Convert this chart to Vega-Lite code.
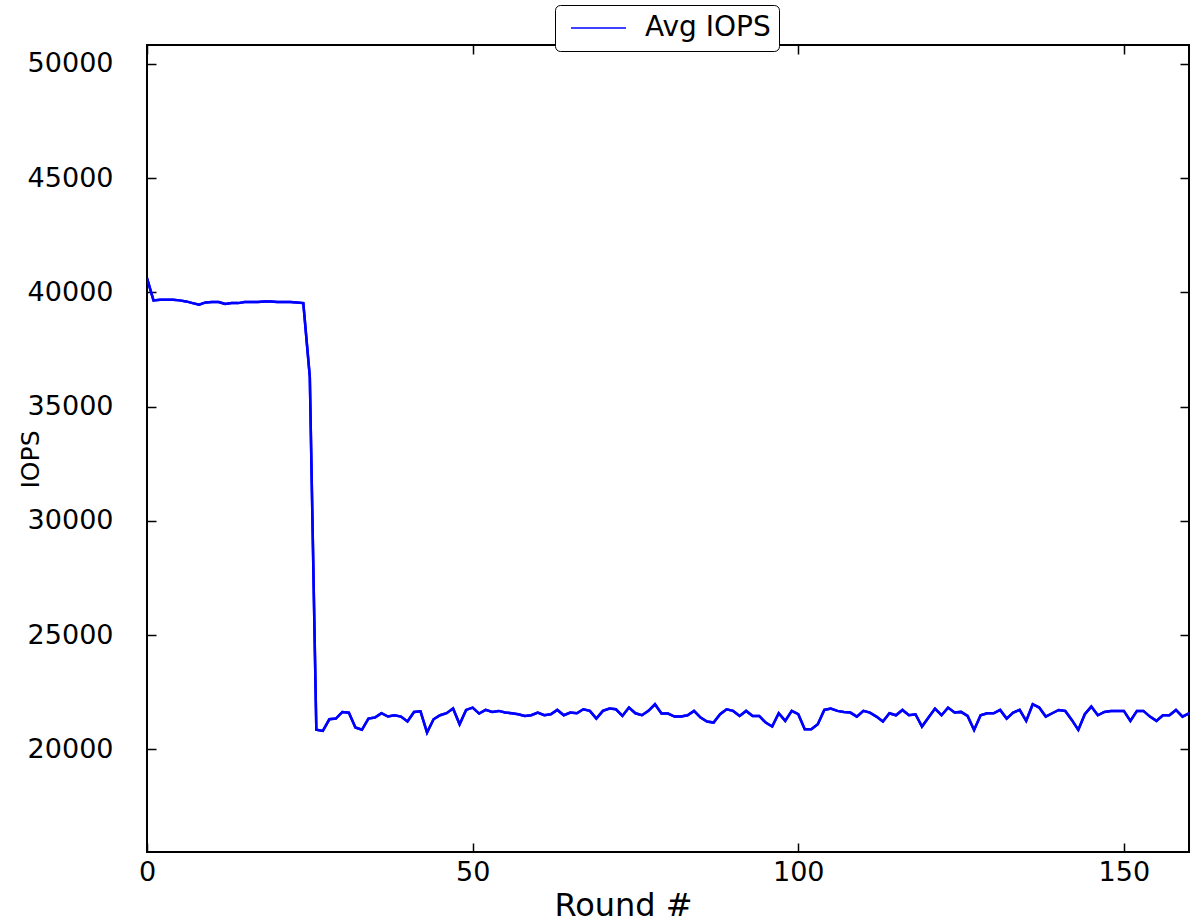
{
  "$schema": "https://vega.github.io/schema/vega-lite/v6.json",
  "width": 1042,
  "height": 807,
  "autosize": {"type": "none"},
  "padding": {"left": 147, "top": 45, "right": 8, "bottom": 70},
  "background": "white",
  "config": {
    "font": "DejaVu Sans",
    "view": {"stroke": "black", "strokeWidth": 2},
    "axis": {
      "domain": false,
      "grid": false,
      "tickColor": "black",
      "tickWidth": 1.5,
      "tickSize": -9,
      "labelColor": "black",
      "labelFont": "DejaVu Sans",
      "labelFontSize": 27,
      "labelFlush": false,
      "labelOverlap": false,
      "titleFont": "DejaVu Sans",
      "titleFontSize": 27,
      "titleFontWeight": "normal",
      "titleColor": "black"
    }
  },
  "data": {
    "values": [
      {"round": 0, "iops": 40620, "series": "Avg IOPS"},
      {"round": 1, "iops": 39650, "series": "Avg IOPS"},
      {"round": 2, "iops": 39680, "series": "Avg IOPS"},
      {"round": 3, "iops": 39680, "series": "Avg IOPS"},
      {"round": 4, "iops": 39680, "series": "Avg IOPS"},
      {"round": 5, "iops": 39650, "series": "Avg IOPS"},
      {"round": 6, "iops": 39605, "series": "Avg IOPS"},
      {"round": 7, "iops": 39530, "series": "Avg IOPS"},
      {"round": 8, "iops": 39460, "series": "Avg IOPS"},
      {"round": 9, "iops": 39560, "series": "Avg IOPS"},
      {"round": 10, "iops": 39580, "series": "Avg IOPS"},
      {"round": 11, "iops": 39580, "series": "Avg IOPS"},
      {"round": 12, "iops": 39490, "series": "Avg IOPS"},
      {"round": 13, "iops": 39530, "series": "Avg IOPS"},
      {"round": 14, "iops": 39530, "series": "Avg IOPS"},
      {"round": 15, "iops": 39580, "series": "Avg IOPS"},
      {"round": 16, "iops": 39580, "series": "Avg IOPS"},
      {"round": 17, "iops": 39580, "series": "Avg IOPS"},
      {"round": 18, "iops": 39605, "series": "Avg IOPS"},
      {"round": 19, "iops": 39605, "series": "Avg IOPS"},
      {"round": 20, "iops": 39580, "series": "Avg IOPS"},
      {"round": 21, "iops": 39580, "series": "Avg IOPS"},
      {"round": 22, "iops": 39580, "series": "Avg IOPS"},
      {"round": 23, "iops": 39560, "series": "Avg IOPS"},
      {"round": 24, "iops": 39530, "series": "Avg IOPS"},
      {"round": 25, "iops": 36300, "series": "Avg IOPS"},
      {"round": 26, "iops": 20850, "series": "Avg IOPS"},
      {"round": 27, "iops": 20800, "series": "Avg IOPS"},
      {"round": 28, "iops": 21310, "series": "Avg IOPS"},
      {"round": 29, "iops": 21340, "series": "Avg IOPS"},
      {"round": 30, "iops": 21630, "series": "Avg IOPS"},
      {"round": 31, "iops": 21600, "series": "Avg IOPS"},
      {"round": 32, "iops": 20950, "series": "Avg IOPS"},
      {"round": 33, "iops": 20850, "series": "Avg IOPS"},
      {"round": 34, "iops": 21340, "series": "Avg IOPS"},
      {"round": 35, "iops": 21385, "series": "Avg IOPS"},
      {"round": 36, "iops": 21575, "series": "Avg IOPS"},
      {"round": 37, "iops": 21430, "series": "Avg IOPS"},
      {"round": 38, "iops": 21490, "series": "Avg IOPS"},
      {"round": 39, "iops": 21430, "series": "Avg IOPS"},
      {"round": 40, "iops": 21210, "series": "Avg IOPS"},
      {"round": 41, "iops": 21630, "series": "Avg IOPS"},
      {"round": 42, "iops": 21660, "series": "Avg IOPS"},
      {"round": 43, "iops": 20730, "series": "Avg IOPS"},
      {"round": 44, "iops": 21310, "series": "Avg IOPS"},
      {"round": 45, "iops": 21490, "series": "Avg IOPS"},
      {"round": 46, "iops": 21575, "series": "Avg IOPS"},
      {"round": 47, "iops": 21780, "series": "Avg IOPS"},
      {"round": 48, "iops": 21090, "series": "Avg IOPS"},
      {"round": 49, "iops": 21720, "series": "Avg IOPS"},
      {"round": 50, "iops": 21820, "series": "Avg IOPS"},
      {"round": 51, "iops": 21560, "series": "Avg IOPS"},
      {"round": 52, "iops": 21720, "series": "Avg IOPS"},
      {"round": 53, "iops": 21630, "series": "Avg IOPS"},
      {"round": 54, "iops": 21677, "series": "Avg IOPS"},
      {"round": 55, "iops": 21604, "series": "Avg IOPS"},
      {"round": 56, "iops": 21574, "series": "Avg IOPS"},
      {"round": 57, "iops": 21530, "series": "Avg IOPS"},
      {"round": 58, "iops": 21458, "series": "Avg IOPS"},
      {"round": 59, "iops": 21487, "series": "Avg IOPS"},
      {"round": 60, "iops": 21604, "series": "Avg IOPS"},
      {"round": 61, "iops": 21487, "series": "Avg IOPS"},
      {"round": 62, "iops": 21530, "series": "Avg IOPS"},
      {"round": 63, "iops": 21720, "series": "Avg IOPS"},
      {"round": 64, "iops": 21487, "series": "Avg IOPS"},
      {"round": 65, "iops": 21604, "series": "Avg IOPS"},
      {"round": 66, "iops": 21574, "series": "Avg IOPS"},
      {"round": 67, "iops": 21749, "series": "Avg IOPS"},
      {"round": 68, "iops": 21677, "series": "Avg IOPS"},
      {"round": 69, "iops": 21341, "series": "Avg IOPS"},
      {"round": 70, "iops": 21677, "series": "Avg IOPS"},
      {"round": 71, "iops": 21778, "series": "Avg IOPS"},
      {"round": 72, "iops": 21749, "series": "Avg IOPS"},
      {"round": 73, "iops": 21458, "series": "Avg IOPS"},
      {"round": 74, "iops": 21822, "series": "Avg IOPS"},
      {"round": 75, "iops": 21574, "series": "Avg IOPS"},
      {"round": 76, "iops": 21487, "series": "Avg IOPS"},
      {"round": 77, "iops": 21677, "series": "Avg IOPS"},
      {"round": 78, "iops": 21968, "series": "Avg IOPS"},
      {"round": 79, "iops": 21560, "series": "Avg IOPS"},
      {"round": 80, "iops": 21560, "series": "Avg IOPS"},
      {"round": 81, "iops": 21428, "series": "Avg IOPS"},
      {"round": 82, "iops": 21428, "series": "Avg IOPS"},
      {"round": 83, "iops": 21487, "series": "Avg IOPS"},
      {"round": 84, "iops": 21677, "series": "Avg IOPS"},
      {"round": 85, "iops": 21385, "series": "Avg IOPS"},
      {"round": 86, "iops": 21210, "series": "Avg IOPS"},
      {"round": 87, "iops": 21166, "series": "Avg IOPS"},
      {"round": 88, "iops": 21530, "series": "Avg IOPS"},
      {"round": 89, "iops": 21749, "series": "Avg IOPS"},
      {"round": 90, "iops": 21677, "series": "Avg IOPS"},
      {"round": 91, "iops": 21458, "series": "Avg IOPS"},
      {"round": 92, "iops": 21677, "series": "Avg IOPS"},
      {"round": 93, "iops": 21458, "series": "Avg IOPS"},
      {"round": 94, "iops": 21458, "series": "Avg IOPS"},
      {"round": 95, "iops": 21166, "series": "Avg IOPS"},
      {"round": 96, "iops": 20991, "series": "Avg IOPS"},
      {"round": 97, "iops": 21574, "series": "Avg IOPS"},
      {"round": 98, "iops": 21240, "series": "Avg IOPS"},
      {"round": 99, "iops": 21677, "series": "Avg IOPS"},
      {"round": 100, "iops": 21530, "series": "Avg IOPS"},
      {"round": 101, "iops": 20875, "series": "Avg IOPS"},
      {"round": 102, "iops": 20875, "series": "Avg IOPS"},
      {"round": 103, "iops": 21093, "series": "Avg IOPS"},
      {"round": 104, "iops": 21720, "series": "Avg IOPS"},
      {"round": 105, "iops": 21778, "series": "Avg IOPS"},
      {"round": 106, "iops": 21677, "series": "Avg IOPS"},
      {"round": 107, "iops": 21633, "series": "Avg IOPS"},
      {"round": 108, "iops": 21604, "series": "Avg IOPS"},
      {"round": 109, "iops": 21428, "series": "Avg IOPS"},
      {"round": 110, "iops": 21677, "series": "Avg IOPS"},
      {"round": 111, "iops": 21604, "series": "Avg IOPS"},
      {"round": 112, "iops": 21428, "series": "Avg IOPS"},
      {"round": 113, "iops": 21210, "series": "Avg IOPS"},
      {"round": 114, "iops": 21574, "series": "Avg IOPS"},
      {"round": 115, "iops": 21487, "series": "Avg IOPS"},
      {"round": 116, "iops": 21720, "series": "Avg IOPS"},
      {"round": 117, "iops": 21487, "series": "Avg IOPS"},
      {"round": 118, "iops": 21530, "series": "Avg IOPS"},
      {"round": 119, "iops": 20991, "series": "Avg IOPS"},
      {"round": 120, "iops": 21385, "series": "Avg IOPS"},
      {"round": 121, "iops": 21778, "series": "Avg IOPS"},
      {"round": 122, "iops": 21487, "series": "Avg IOPS"},
      {"round": 123, "iops": 21822, "series": "Avg IOPS"},
      {"round": 124, "iops": 21604, "series": "Avg IOPS"},
      {"round": 125, "iops": 21633, "series": "Avg IOPS"},
      {"round": 126, "iops": 21458, "series": "Avg IOPS"},
      {"round": 127, "iops": 20845, "series": "Avg IOPS"},
      {"round": 128, "iops": 21487, "series": "Avg IOPS"},
      {"round": 129, "iops": 21574, "series": "Avg IOPS"},
      {"round": 130, "iops": 21574, "series": "Avg IOPS"},
      {"round": 131, "iops": 21720, "series": "Avg IOPS"},
      {"round": 132, "iops": 21341, "series": "Avg IOPS"},
      {"round": 133, "iops": 21604, "series": "Avg IOPS"},
      {"round": 134, "iops": 21720, "series": "Avg IOPS"},
      {"round": 135, "iops": 21240, "series": "Avg IOPS"},
      {"round": 136, "iops": 21968, "series": "Avg IOPS"},
      {"round": 137, "iops": 21822, "series": "Avg IOPS"},
      {"round": 138, "iops": 21428, "series": "Avg IOPS"},
      {"round": 139, "iops": 21574, "series": "Avg IOPS"},
      {"round": 140, "iops": 21720, "series": "Avg IOPS"},
      {"round": 141, "iops": 21677, "series": "Avg IOPS"},
      {"round": 142, "iops": 21283, "series": "Avg IOPS"},
      {"round": 143, "iops": 20845, "series": "Avg IOPS"},
      {"round": 144, "iops": 21530, "series": "Avg IOPS"},
      {"round": 145, "iops": 21866, "series": "Avg IOPS"},
      {"round": 146, "iops": 21487, "series": "Avg IOPS"},
      {"round": 147, "iops": 21633, "series": "Avg IOPS"},
      {"round": 148, "iops": 21677, "series": "Avg IOPS"},
      {"round": 149, "iops": 21677, "series": "Avg IOPS"},
      {"round": 150, "iops": 21677, "series": "Avg IOPS"},
      {"round": 151, "iops": 21240, "series": "Avg IOPS"},
      {"round": 152, "iops": 21677, "series": "Avg IOPS"},
      {"round": 153, "iops": 21677, "series": "Avg IOPS"},
      {"round": 154, "iops": 21428, "series": "Avg IOPS"},
      {"round": 155, "iops": 21240, "series": "Avg IOPS"},
      {"round": 156, "iops": 21487, "series": "Avg IOPS"},
      {"round": 157, "iops": 21487, "series": "Avg IOPS"},
      {"round": 158, "iops": 21720, "series": "Avg IOPS"},
      {"round": 159, "iops": 21428, "series": "Avg IOPS"},
      {"round": 160, "iops": 21574, "series": "Avg IOPS"}
    ]
  },
  "layer": [
    {
      "mark": {"type": "line", "strokeWidth": 2.5, "clip": true},
      "encoding": {
        "x": {
          "field": "round", "type": "quantitative",
          "scale": {"domain": [0, 160], "nice": false, "zero": false},
          "axis": {"orient": "bottom", "values": [0, 50, 100, 150], "title": "Round #", "labelPadding": 16,
                   "titleFontSize": 32,
                   "titleX": 476, "titleY": 53, "titleAlign": "center", "titleBaseline": "middle"}
        },
        "y": {
          "field": "iops", "type": "quantitative",
          "scale": {"domain": [15500, 50830], "nice": false, "zero": false},
          "axis": {"orient": "left", "values": [20000, 25000, 30000, 35000, 40000, 45000, 50000], "format": "d",
                   "title": "IOPS", "labelPadding": 43, "titleFontSize": 25,
                   "titleX": -117, "titleY": 414, "titleAlign": "center", "titleBaseline": "middle", "titleAngle": -90}
        },
        "color": {
          "field": "series", "type": "nominal",
          "scale": {"range": ["#0000ff"]},
          "legend": {
            "orient": "none", "legendX": 408, "legendY": -40, "title": null,
            "symbolType": "stroke", "symbolSize": 3025, "symbolStrokeWidth": 1.5, "symbolOffset": 7,
            "clipHeight": 30,
            "labelFont": "DejaVu Sans", "labelFontSize": 28, "labelColor": "black", "labelOffset": 18,
            "strokeColor": "black", "fillColor": "white", "padding": 8, "cornerRadius": 5
          }
        }
      }
    },
    {
      "mark": {"type": "line", "strokeWidth": 2.5, "clip": true},
      "encoding": {
        "x": {
          "field": "round", "type": "quantitative",
          "axis": {"orient": "top", "values": [0, 50, 100, 150], "title": null, "labels": false}
        },
        "y": {
          "field": "iops", "type": "quantitative",
          "axis": {"orient": "right", "values": [20000, 25000, 30000, 35000, 40000, 45000, 50000], "title": null, "labels": false}
        },
        "color": {"field": "series", "type": "nominal"}
      }
    }
  ],
  "resolve": {"axis": {"x": "independent", "y": "independent"}}
}
